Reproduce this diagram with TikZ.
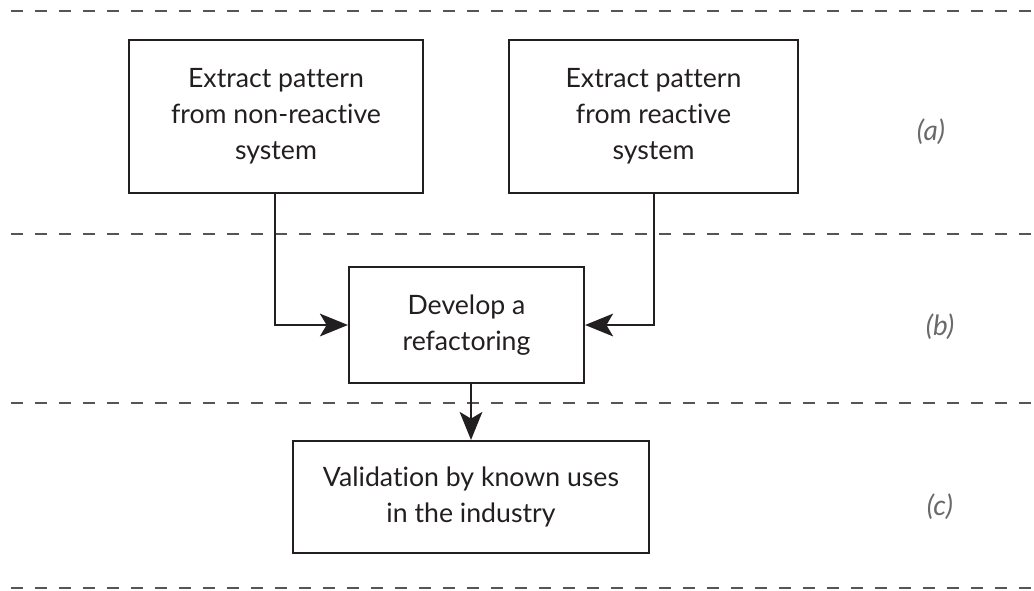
\documentclass[tikz,border=0pt]{standalone}
\usepackage{fontspec}
\setmainfont[Ligatures=NoCommon]{Lato}
\usetikzlibrary{arrows.meta}
\definecolor{ink}{HTML}{231F20}
\definecolor{rule}{HTML}{555555}
\definecolor{tag}{HTML}{6A6A6A}
\tikzset{
  stage/.style={draw=ink, line width=1.6pt, align=center, inner sep=0pt,
    font=\fontsize{20}{27}\selectfont, text=ink},
  sep/.style={draw=rule, line width=0.8pt, dash pattern=on 9pt off 9pt},
  flow/.style={draw=ink, line width=1.6pt,
    -{Stealth[length=21pt, width=17pt, inset=5pt]}},
  phase/.style={text=tag, font=\fontsize{21}{24}\selectfont\itshape}
}
\begin{document}
\begin{tikzpicture}[x=0.75pt, y=-0.75pt]
\useasboundingbox (0,0) rectangle (1034,590);
% phase separators
\draw[sep] (11,11) -- (1034,11);
\draw[sep] (11,234) -- (1034,234);
\draw[sep] (11,403) -- (1034,403);
\draw[sep] (11,588) -- (1034,588);
% activity boxes
\node[stage, minimum width=220.5pt, minimum height=114.75pt] (nonreact) at (276,116.5)
  {Extract pattern\\from non-reactive\\system};
\node[stage, minimum width=216.75pt, minimum height=114.75pt] (react) at (653.5,116.5)
  {Extract pattern\\from reactive\\system};
\node[stage, minimum width=176.25pt, minimum height=87pt] (refactor) at (466.5,325)
  {Develop a\\refactoring};
\node[stage, minimum width=267pt, minimum height=84pt] (validate) at (471,497)
  {Validation by known uses\\in the industry};
% phase labels
\node[phase] (pa) at (931,132) {(a)};
\node[phase] (pb) at (940,327) {(b)};
\node[phase] (pc) at (940,507) {(c)};
% connectors
\draw[flow] (nonreact.south -| 275,0) |- (refactor.west);
\draw[flow] (react.south -| 654,0) |- (refactor.east);
\draw[flow] (refactor.south -| validate.north) -- (validate.north);
\end{tikzpicture}
\end{document}
